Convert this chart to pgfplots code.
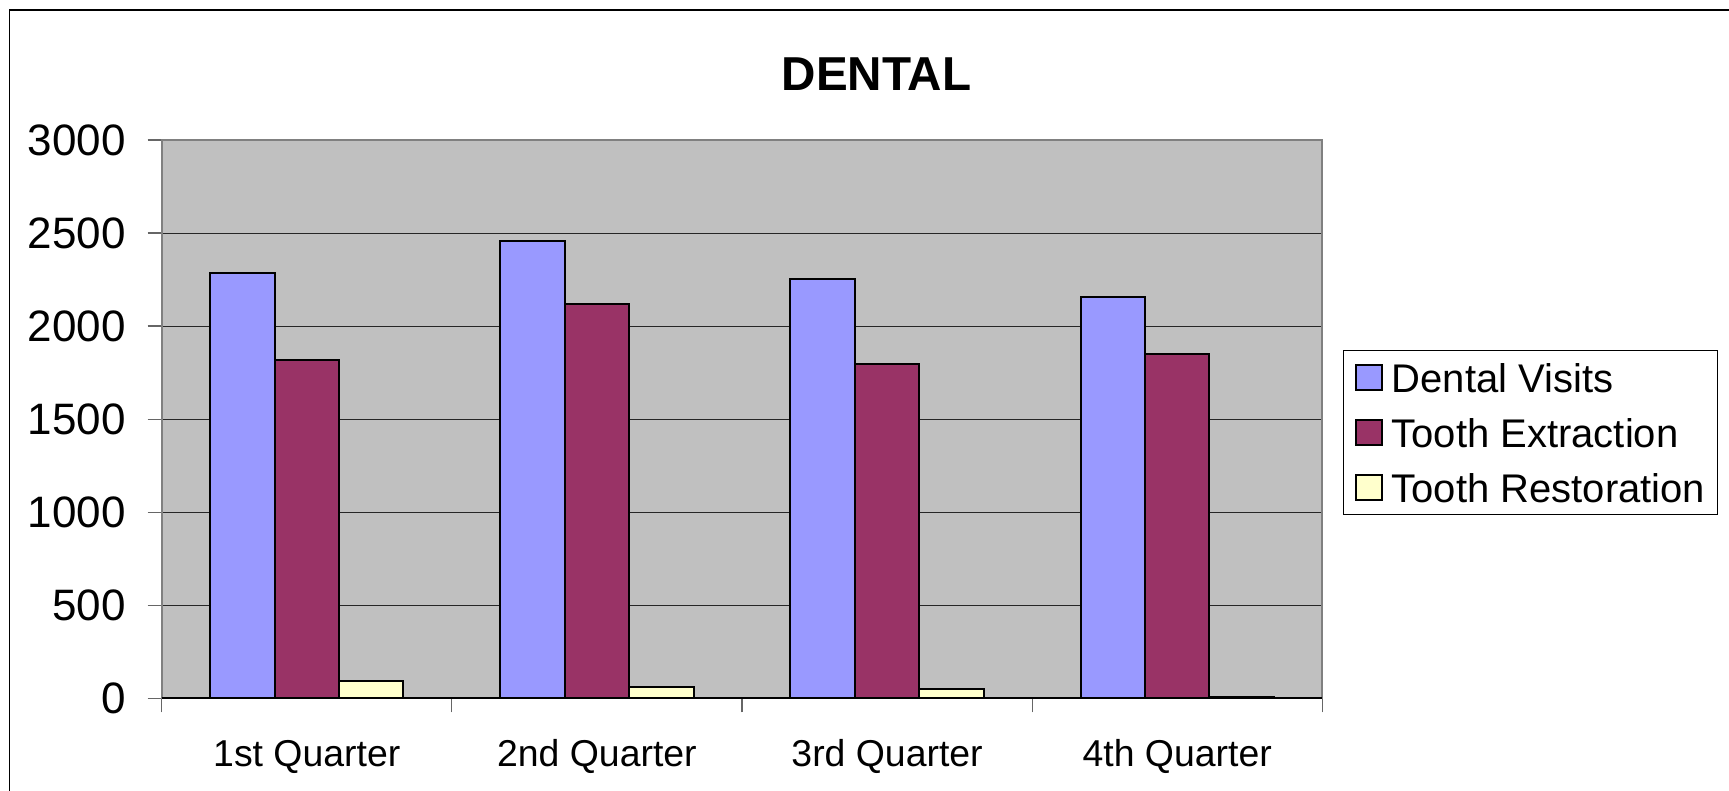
\documentclass[border=0pt]{standalone}
\usepackage{fontspec}
\setmainfont{Liberation Sans}
\usepackage{pgfplots}
\pgfplotsset{compat=1.18}
\definecolor{dv}{HTML}{9999FF}
\definecolor{te}{HTML}{993366}
\definecolor{tr}{HTML}{FFFFCC}
\definecolor{bgc}{HTML}{C0C0C0}
\pgfplotsset{sqleg/.style={legend image code/.code={\draw[##1,draw=black,line width=0.9pt] (0pt,-6.35pt) rectangle (12.7pt,6.35pt);}}}
\begin{document}
\begin{tikzpicture}
\useasboundingbox (0,0) rectangle (864.5pt,395.5pt);
\fill[white] (0,0) rectangle (864.5pt,395.5pt);
\draw[black, line width=0.6pt] (4.75pt,0pt) -- (4.75pt,390.5pt) -- (870pt,390.5pt);
\begin{axis}[
  at={(80.85pt,46.35pt)}, anchor=south west,
  scale only axis, width=580.3pt, height=279.15pt,
  ybar, bar width=0.2222,
  xmin=-0.5, xmax=3.5, ymin=0, ymax=3000,
  xtick={-0.5,0.5,1.5,2.5,3.5},
  x tick label as interval,
  xticklabels={1st Quarter,2nd Quarter,3rd Quarter,4th Quarter},
  ytick={0,500,1000,1500,2000,2500,3000},
  tick align=outside, major tick length=7pt,
  tick style={black!60, line width=0.6pt},
  xtick pos=bottom, ytick pos=left,
  ymajorgrids,
  major grid style={black!85, line width=0.5pt},
  axis line style={black!50, line width=1pt},
  axis background/.style={fill=bgc},
  /pgf/number format/assume math mode=true,
  /pgf/number format/1000 sep={},
  yticklabel style={font=\fontsize{22}{26}\selectfont, inner sep=0pt, anchor=east, xshift=-10.85pt},
  xticklabel style={font=\fontsize{18.7}{22}\selectfont, inner sep=0pt, anchor=base, yshift=-27pt},
  title={\textbf{DENTAL}},
  title style={font=\fontsize{23.8}{28}\selectfont, at={(0.6159,1.0663)}, anchor=base, inner sep=0pt},
  legend style={at={(1.0178,0.6239)}, anchor=north west, draw=black, line width=0.5pt, fill=white,
    font=\fontsize{20}{24}\selectfont, inner xsep=6pt, inner ysep=3pt,
    nodes={inner sep=0pt, text height=17.9pt, text depth=3.1pt, anchor=west},
    row sep=6.5pt, column sep=4.5pt},
  legend cell align=left,
]
\addplot[fill=dv, draw=black, line width=1pt, bar shift=-0.2222, sqleg] coordinates {(0,2284) (1,2455) (2,2255) (3,2155)};
\addplot[fill=te, draw=black, line width=1pt, bar shift=0, sqleg] coordinates {(0,1818) (1,2117) (2,1798) (3,1852)};
\addplot[fill=tr, draw=black, line width=1pt, bar shift=0.2222, sqleg] coordinates {(0,95) (1,59) (2,48) (3,8)};
\legend{Dental Visits,Tooth Extraction,Tooth Restoration}
\draw[black, line width=0.8pt] (rel axis cs:0,0) -- (rel axis cs:1,0);
\end{axis}
\end{tikzpicture}
\end{document}
